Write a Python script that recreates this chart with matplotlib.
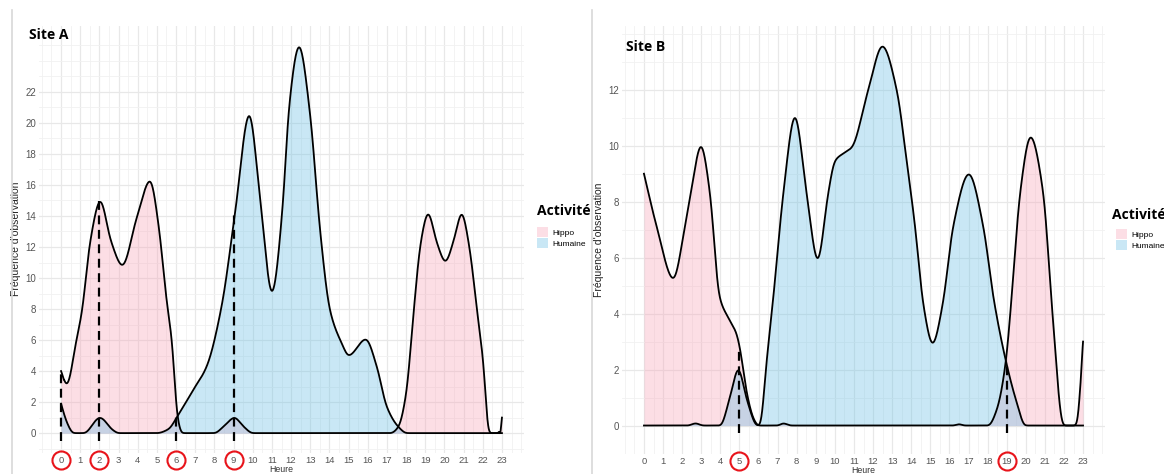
import numpy as np
import matplotlib
matplotlib.use("Agg")
import matplotlib.pyplot as plt
from matplotlib.patches import Patch
from matplotlib.legend_handler import HandlerPatch
from matplotlib.lines import Line2D
from matplotlib.transforms import blended_transform_factory

# hours shown on the x axis
hours = list(range(24))

# Site A (hour, frequency)
a_hippo_h = [0, 0.3, 0.8, 1.1, 1.5, 2.05, 2.6, 3.2, 3.95, 4.65, 5.1, 5.5, 5.8, 6.05, 6.3,
             8.0, 8.5, 9.05, 9.5, 10.0, 17.2, 17.6, 18.0, 18.4, 18.75, 19.15, 19.6, 20.05,
             20.5, 20.9, 21.3, 21.7, 22.05, 22.3, 22.9, 23.0]
a_hippo_v = [4.0, 3.1, 6.0, 7.9, 12.2, 15.0, 12.4, 10.8, 13.9, 16.3, 13.3, 8.6, 5.8, 1.2, 0,
             0, 0.45, 1.0, 0.45, 0, 0, 0.4, 2.5, 7.9, 12.2, 14.2, 12.3, 11.05,
             12.5, 14.2, 12.0, 7.9, 4.3, 0, 0, 1.0]
a_human_h = [0, 0.3, 0.65, 1.2, 2.03, 2.7, 3.0, 5.0, 5.6, 6.1, 6.9, 7.6, 8.38, 9.08, 9.82,
             10.38, 11.0, 11.6, 11.86, 12.42, 12.99, 13.51, 14.03, 14.64, 15.0, 15.9, 16.47,
             16.99, 17.6, 18.03, 23.0]
a_human_v = [1.9, 0.7, 0, 0, 1.0, 0.2, 0, 0, 0.25, 1.15, 2.8, 4.3, 8.2, 14.2, 20.6,
             15.2, 9.0, 15.2, 20.6, 25.0, 20.6, 13.1, 7.9, 5.8, 5.0, 6.06, 4.3,
             1.7, 0.4, 0, 0]
a_marks = [0, 2, 6, 9]
a_marks_top = [4.0, 15.0, 1.25, 14.2]

# Site B
b_hippo_h = [0, 0.66, 1.54, 2.15, 2.45, 2.99, 3.46, 3.95, 4.5, 4.85, 5.03, 5.38, 5.73, 5.99,
             7.0, 7.3, 7.7, 16.2, 16.5, 16.8, 18.04, 18.5, 18.96, 19.26, 19.7, 20.25, 20.92,
             21.36, 21.97, 22.67, 23.0]
b_hippo_v = [9.0, 7.13, 5.24, 7.13, 8.3, 10.02, 8.3, 4.6, 3.75, 3.29, 2.76, 1.19, 0.26, 0,
             0, 0.08, 0, 0, 0.05, 0, 0, 0.6, 2.3, 4.6, 8.3, 10.34, 8.3,
             4.34, 0, 0, 3.0]
b_human_h = [0, 2.3, 2.7, 3.1, 4.0, 4.5, 4.94, 5.4, 5.93, 6.08, 6.43, 6.78, 7.3, 7.91, 8.52,
             9.1, 9.65, 10.0, 10.5, 10.88, 11.75, 12.49, 13.24, 13.76, 14.2, 14.63, 15.12,
             15.65, 16.2, 17.02, 17.77, 18.3, 18.96, 19.52, 19.97, 23.0]
b_human_v = [0, 0, 0.08, 0, 0, 1.0, 2.03, 0.9, 0, 0, 2.35, 4.6, 8.3, 11.07, 8.3,
             5.9, 8.3, 9.46, 9.75, 9.93, 12.0, 13.57, 12.0, 9.46, 7.13, 4.34, 2.91,
             4.34, 7.13, 9.0, 7.13, 4.6, 2.3, 0.84, 0, 0]
b_marks = [5, 19]
b_marks_top = [2.76, 2.3]

pink = "#f7a1b5"
blue = "#66bde3"


def pchip(x, y, xs):
    # monotone cubic, keeps the flat parts flat
    x = np.asarray(x, float)
    y = np.asarray(y, float)
    h = np.diff(x)
    d = np.diff(y) / h
    m = np.zeros_like(y)
    for k in range(1, len(x) - 1):
        if d[k - 1] * d[k] > 0:
            w1 = 2 * h[k] + h[k - 1]
            w2 = h[k] + 2 * h[k - 1]
            m[k] = (w1 + w2) / (w1 / d[k - 1] + w2 / d[k])
    m[0] = d[0]
    m[-1] = d[-1]
    idx = np.clip(np.searchsorted(x, xs) - 1, 0, len(x) - 2)
    t = (xs - x[idx]) / h[idx]
    h00 = 2 * t**3 - 3 * t**2 + 1
    h10 = t**3 - 2 * t**2 + t
    h01 = -2 * t**3 + 3 * t**2
    h11 = t**3 - t**2
    return h00 * y[idx] + h10 * h[idx] * m[idx] + h01 * y[idx + 1] + h11 * h[idx] * m[idx + 1]


def smooth_curve(x, y, xs, sigma=0.08):
    # pchip then a light gaussian blur to round off the joins
    ys = pchip(x, y, xs)
    step = xs[1] - xs[0]
    n = int(4 * sigma / step)
    k = np.exp(-0.5 * (np.arange(-n, n + 1) * step / sigma) ** 2)
    k /= k.sum()
    padded = np.concatenate([np.full(n, ys[0]), ys, np.full(n, ys[-1])])
    out = np.convolve(padded, k, mode="valid")
    # keep the end values where the curve starts / stops
    out[:n // 2] = ys[:n // 2]
    out[-(n // 2):] = ys[-(n // 2):]
    return np.clip(out, 0, None)


def draw_site(ax, hippo_h, hippo_v, human_h, human_v, marks, marks_top, yticks, ymax, title, title_xy):
    xs = np.linspace(0, 23, 2301)
    yp = smooth_curve(hippo_h, hippo_v, xs)
    yb = smooth_curve(human_h, human_v, xs)

    ax.fill_between(xs, 0, yp, color=pink, alpha=0.35, lw=0, zorder=2)
    ax.fill_between(xs, 0, yb, color=blue, alpha=0.35, lw=0, zorder=2)
    ax.plot(xs, yp, color="black", lw=1.3, zorder=3, solid_joinstyle="round")
    ax.plot(xs, yb, color="black", lw=1.3, zorder=3, solid_joinstyle="round")

    for h, top in zip(marks, marks_top):
        ax.plot([h, h], [-0.02 * ymax, top], color="black", lw=1.6,
                ls=(0, (4, 2.5)), zorder=4)

    ax.set_xlim(-1.15, 24.15)
    ax.set_ylim(-0.05 * ymax, 1.05 * ymax)
    ax.set_xticks(hours)
    ax.set_xticks(np.arange(-1, 24.5, 0.5), minor=True)
    ax.set_yticks(yticks)
    ax.set_yticks(np.arange(-1, ymax + 1, 1), minor=True)
    ax.grid(which="major", color="#e8e8e8", lw=0.9, zorder=0)
    ax.grid(which="minor", color="#f1f1f1", lw=0.6, zorder=0)
    ax.set_axisbelow(True)
    for s in ax.spines.values():
        s.set_visible(False)
    ax.tick_params(which="both", length=0, labelsize=7, labelcolor="#555555")
    ax.tick_params(axis="x", pad=2.5, labelsize=6.8)
    ax.tick_params(axis="y", pad=2)
    for lab in ax.get_xticklabels() + ax.get_yticklabels():
        lab.set_fontfamily("Liberation Sans")

    ax.set_xlabel("Heure", fontsize=6.3, family="Liberation Sans", color="#333333")
    ax.xaxis.set_label_coords(0.5, -0.029)
    ax.set_ylabel("Fréquence d'observation", fontsize=7.5, family="Liberation Sans", color="#222222")
    ax.yaxis.set_label_coords(-0.038, 0.5)

    ax.text(title_xy[0], title_xy[1], title, transform=ax.transAxes, fontsize=10,
            fontweight="bold", family="Open Sans", va="center", ha="left")

    # red circles around the marked hours
    tr = blended_transform_factory(ax.transData, ax.transAxes)
    ax.plot(marks, [-0.018] * len(marks), ls="none", marker="o", markersize=13,
            markerfacecolor="none", markeredgecolor="#e8141b", markeredgewidth=1.5,
            transform=tr, clip_on=False, zorder=5)


fig = plt.figure(figsize=(11.64, 4.74), dpi=100)
ax1 = fig.add_axes([39 / 1164, 1 - 452.5 / 474, 485 / 1164, 426.5 / 474])
ax2 = fig.add_axes([622 / 1164, 1 - 453.5 / 474, 483 / 1164, 427.5 / 474])

draw_site(ax1, a_hippo_h, a_hippo_v, a_human_h, a_human_v, a_marks, a_marks_top,
          list(range(0, 23, 2)), 25.0, "Site A", (-0.02, 0.979))
draw_site(ax2, b_hippo_h, b_hippo_v, b_human_h, b_human_v, b_marks, b_marks_top,
          list(range(0, 13, 2)), 13.6, "Site B", (0.008, 0.951))

# legends: title as text, keys through fig.legend
handles = [Patch(facecolor=pink, alpha=0.35, edgecolor="none"),
           Patch(facecolor=blue, alpha=0.35, edgecolor="none")]
for tx, ty, kx, ky in [(537, 211, 537, 227), (1112, 215, 1116, 229)]:
    fig.text(tx / 1164, 1 - ty / 474, "Activité", fontsize=10, fontweight="bold",
             family="Open Sans", va="center", ha="left")
    leg = fig.legend(handles, ["Hippo", "Humaine"], loc="upper left",
                     bbox_to_anchor=(kx / 1164, 1 - ky / 474), frameon=False, fontsize=6,
                     handlelength=1.3, handleheight=1.55, handletextpad=0.5,
                     labelspacing=0.12, borderpad=0, borderaxespad=0,
                     handler_map={Patch: HandlerPatch(ypad=0.05)})
    for t in leg.get_texts():
        t.set_fontfamily("Liberation Sans")

# edges of the two screenshots
fig.add_artist(Line2D([12 / 1164, 12 / 1164], [0, 1 - 10 / 474], color="#d8d8d8", lw=1.2))
fig.add_artist(Line2D([592 / 1164, 592 / 1164], [0, 1 - 10 / 474], color="#d8d8d8", lw=1.2))

fig.savefig("out.png", dpi=100)
